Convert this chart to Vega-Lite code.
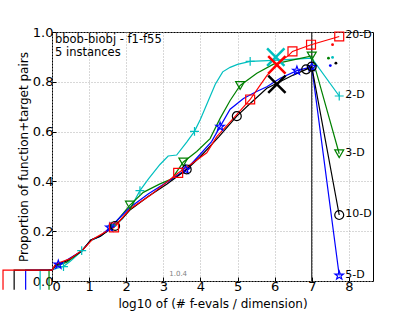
{
  "$schema": "https://vega.github.io/schema/vega-lite/v6.json",
  "width": 321,
  "height": 249,
  "autosize": {"type": "none"},
  "padding": {"left": 52, "top": 32, "right": 42, "bottom": 31},
  "config": {
    "font": "DejaVu Sans",
    "view": {"stroke": "#000000", "strokeWidth": 1},
    "axis": {
      "domain": false,
      "grid": true,
      "gridColor": "#b0b0b0",
      "gridDash": [1, 2],
      "gridWidth": 1,
      "tickColor": "#000000",
      "tickSize": -4,
      "labelFont": "DejaVu Sans",
      "labelFontSize": 13,
      "labelColor": "#000000",
      "titleFont": "DejaVu Sans",
      "titleFontSize": 12,
      "titleFontWeight": "normal",
      "titleColor": "#000000"
    }
  },
  "datasets": {
    "lines": [
      {"d": "2-D", "x": -0.32, "y": -0.035}, {"d": "2-D", "x": -0.32, "y": 0.044}, {"d": "2-D", "x": 0, "y": 0.044},
      {"d": "2-D", "x": 0.1, "y": 0.05}, {"d": "2-D", "x": 0.31, "y": 0.058}, {"d": "2-D", "x": 0.5, "y": 0.08},
      {"d": "2-D", "x": 0.8, "y": 0.12}, {"d": "2-D", "x": 1.02, "y": 0.16}, {"d": "2-D", "x": 1.3, "y": 0.18},
      {"d": "2-D", "x": 1.6, "y": 0.215}, {"d": "2-D", "x": 1.9, "y": 0.25}, {"d": "2-D", "x": 2.1, "y": 0.289},
      {"d": "2-D", "x": 2.37, "y": 0.363}, {"d": "2-D", "x": 2.6, "y": 0.41}, {"d": "2-D", "x": 2.91, "y": 0.468},
      {"d": "2-D", "x": 3.13, "y": 0.502}, {"d": "2-D", "x": 3.36, "y": 0.506}, {"d": "2-D", "x": 3.63, "y": 0.558},
      {"d": "2-D", "x": 3.84, "y": 0.601}, {"d": "2-D", "x": 4.0, "y": 0.65}, {"d": "2-D", "x": 4.2, "y": 0.72},
      {"d": "2-D", "x": 4.4, "y": 0.79}, {"d": "2-D", "x": 4.6, "y": 0.84}, {"d": "2-D", "x": 4.8, "y": 0.858},
      {"d": "2-D", "x": 5.0, "y": 0.87}, {"d": "2-D", "x": 5.34, "y": 0.882}, {"d": "2-D", "x": 5.97, "y": 0.886},
      {"d": "2-D", "x": 7.0, "y": 0.895}, {"d": "2-D", "x": 7.74, "y": 0.743},

      {"d": "3-D", "x": -0.08, "y": -0.035}, {"d": "3-D", "x": -0.08, "y": 0.044}, {"d": "3-D", "x": 0, "y": 0.044},
      {"d": "3-D", "x": 0.1, "y": 0.06}, {"d": "3-D", "x": 0.4, "y": 0.075}, {"d": "3-D", "x": 0.8, "y": 0.12},
      {"d": "3-D", "x": 1.05, "y": 0.165}, {"d": "3-D", "x": 1.3, "y": 0.18}, {"d": "3-D", "x": 1.6, "y": 0.215},
      {"d": "3-D", "x": 1.85, "y": 0.26}, {"d": "3-D", "x": 2.1, "y": 0.305}, {"d": "3-D", "x": 2.46, "y": 0.356},
      {"d": "3-D", "x": 2.91, "y": 0.39}, {"d": "3-D", "x": 3.23, "y": 0.41}, {"d": "3-D", "x": 3.54, "y": 0.478},
      {"d": "3-D", "x": 3.9, "y": 0.52}, {"d": "3-D", "x": 4.26, "y": 0.572}, {"d": "3-D", "x": 4.53, "y": 0.653},
      {"d": "3-D", "x": 4.8, "y": 0.725}, {"d": "3-D", "x": 5.07, "y": 0.785}, {"d": "3-D", "x": 5.52, "y": 0.834},
      {"d": "3-D", "x": 5.97, "y": 0.871}, {"d": "3-D", "x": 6.5, "y": 0.888}, {"d": "3-D", "x": 7.0, "y": 0.904},
      {"d": "3-D", "x": 7.74, "y": 0.511},

      {"d": "5-D", "x": -0.71, "y": -0.035}, {"d": "5-D", "x": -0.71, "y": 0.044}, {"d": "5-D", "x": 0, "y": 0.044},
      {"d": "5-D", "x": 0.1, "y": 0.065}, {"d": "5-D", "x": 0.3, "y": 0.075}, {"d": "5-D", "x": 0.8, "y": 0.12},
      {"d": "5-D", "x": 1.05, "y": 0.165}, {"d": "5-D", "x": 1.3, "y": 0.18}, {"d": "5-D", "x": 1.56, "y": 0.215},
      {"d": "5-D", "x": 2.1, "y": 0.295}, {"d": "5-D", "x": 2.6, "y": 0.35}, {"d": "5-D", "x": 3.18, "y": 0.405},
      {"d": "5-D", "x": 3.63, "y": 0.45}, {"d": "5-D", "x": 4.0, "y": 0.51}, {"d": "5-D", "x": 4.3, "y": 0.56},
      {"d": "5-D", "x": 4.53, "y": 0.62}, {"d": "5-D", "x": 4.8, "y": 0.69}, {"d": "5-D", "x": 5.16, "y": 0.733},
      {"d": "5-D", "x": 5.5, "y": 0.76}, {"d": "5-D", "x": 5.79, "y": 0.78}, {"d": "5-D", "x": 6.15, "y": 0.814},
      {"d": "5-D", "x": 6.6, "y": 0.845}, {"d": "5-D", "x": 7.0, "y": 0.86}, {"d": "5-D", "x": 7.74, "y": 0.022},

      {"d": "10-D", "x": -1.02, "y": -0.035}, {"d": "10-D", "x": -1.02, "y": 0.044}, {"d": "10-D", "x": 0, "y": 0.044},
      {"d": "10-D", "x": 0.1, "y": 0.065}, {"d": "10-D", "x": 0.4, "y": 0.08}, {"d": "10-D", "x": 0.8, "y": 0.12},
      {"d": "10-D", "x": 1.05, "y": 0.165}, {"d": "10-D", "x": 1.3, "y": 0.18}, {"d": "10-D", "x": 1.7, "y": 0.221},
      {"d": "10-D", "x": 2.1, "y": 0.285}, {"d": "10-D", "x": 2.6, "y": 0.34}, {"d": "10-D", "x": 3.1, "y": 0.39},
      {"d": "10-D", "x": 3.63, "y": 0.448}, {"d": "10-D", "x": 4.0, "y": 0.5}, {"d": "10-D", "x": 4.5, "y": 0.58},
      {"d": "10-D", "x": 4.98, "y": 0.662}, {"d": "10-D", "x": 5.34, "y": 0.713}, {"d": "10-D", "x": 5.79, "y": 0.774},
      {"d": "10-D", "x": 6.06, "y": 0.794}, {"d": "10-D", "x": 6.5, "y": 0.827}, {"d": "10-D", "x": 6.85, "y": 0.85},
      {"d": "10-D", "x": 7.0, "y": 0.861}, {"d": "10-D", "x": 7.74, "y": 0.265},

      {"d": "20-D", "x": -1.32, "y": -0.035}, {"d": "20-D", "x": -1.32, "y": 0.044}, {"d": "20-D", "x": 0, "y": 0.044},
      {"d": "20-D", "x": 0.1, "y": 0.068}, {"d": "20-D", "x": 0.5, "y": 0.09}, {"d": "20-D", "x": 0.84, "y": 0.127},
      {"d": "20-D", "x": 1.1, "y": 0.168}, {"d": "20-D", "x": 1.47, "y": 0.2}, {"d": "20-D", "x": 1.67, "y": 0.215},
      {"d": "20-D", "x": 2.1, "y": 0.289}, {"d": "20-D", "x": 2.64, "y": 0.343}, {"d": "20-D", "x": 3.09, "y": 0.397},
      {"d": "20-D", "x": 3.4, "y": 0.434}, {"d": "20-D", "x": 3.8, "y": 0.475}, {"d": "20-D", "x": 4.17, "y": 0.515},
      {"d": "20-D", "x": 4.44, "y": 0.58}, {"d": "20-D", "x": 4.93, "y": 0.66}, {"d": "20-D", "x": 5.34, "y": 0.729},
      {"d": "20-D", "x": 5.61, "y": 0.787}, {"d": "20-D", "x": 5.79, "y": 0.825}, {"d": "20-D", "x": 6.06, "y": 0.872},
      {"d": "20-D", "x": 6.37, "y": 0.905}, {"d": "20-D", "x": 6.48, "y": 0.922}, {"d": "20-D", "x": 6.98, "y": 0.949},
      {"d": "20-D", "x": 7.74, "y": 0.982}
    ],
    "markers": [
      {"d": "2-D", "x": 0.31, "y": 0.058}, {"d": "2-D", "x": 0.8, "y": 0.122}, {"d": "2-D", "x": 1.61, "y": 0.22},
      {"d": "2-D", "x": 2.37, "y": 0.363}, {"d": "2-D", "x": 3.84, "y": 0.601}, {"d": "2-D", "x": 5.34, "y": 0.882},
      {"d": "2-D", "x": 7.74, "y": 0.743},
      {"d": "3-D", "x": 2.1, "y": 0.305}, {"d": "3-D", "x": 3.54, "y": 0.478}, {"d": "3-D", "x": 5.07, "y": 0.785},
      {"d": "3-D", "x": 7.0, "y": 0.904}, {"d": "3-D", "x": 7.74, "y": 0.511},
      {"d": "5-D", "x": 0.17, "y": 0.066}, {"d": "5-D", "x": 1.56, "y": 0.215}, {"d": "5-D", "x": 3.6, "y": 0.447},
      {"d": "5-D", "x": 4.53, "y": 0.62}, {"d": "5-D", "x": 6.6, "y": 0.845}, {"d": "5-D", "x": 7.0, "y": 0.86},
      {"d": "5-D", "x": 7.74, "y": 0.022},
      {"d": "10-D", "x": 1.7, "y": 0.221}, {"d": "10-D", "x": 3.63, "y": 0.448}, {"d": "10-D", "x": 4.98, "y": 0.662},
      {"d": "10-D", "x": 6.85, "y": 0.85}, {"d": "10-D", "x": 7.0, "y": 0.861}, {"d": "10-D", "x": 7.74, "y": 0.265},
      {"d": "20-D", "x": 1.67, "y": 0.215}, {"d": "20-D", "x": 3.4, "y": 0.434}, {"d": "20-D", "x": 5.34, "y": 0.729},
      {"d": "20-D", "x": 6.48, "y": 0.922}, {"d": "20-D", "x": 6.98, "y": 0.949}, {"d": "20-D", "x": 7.74, "y": 0.982}
    ],
    "bigx": [
      {"d": "2-D", "x": 6.03, "y": 0.899},
      {"d": "20-D", "x": 6.06, "y": 0.868},
      {"d": "10-D", "x": 6.06, "y": 0.79}
    ],
    "dots": [
      {"d": "20-D", "x": 7.56, "y": 0.949},
      {"d": "2-D", "x": 7.56, "y": 0.898},
      {"d": "3-D", "x": 7.45, "y": 0.895},
      {"d": "5-D", "x": 7.5, "y": 0.865},
      {"d": "10-D", "x": 7.65, "y": 0.875}
    ],
    "ends": [
      {"d": "2-D", "x": 7.74, "y": 0.743},
      {"d": "3-D", "x": 7.74, "y": 0.511},
      {"d": "5-D", "x": 7.74, "y": 0.022},
      {"d": "10-D", "x": 7.74, "y": 0.265},
      {"d": "20-D", "x": 7.74, "y": 0.982}
    ],
    "notes": [
      {"x": 0.08, "y": 0.969, "label": "bbob-biobj - f1-f55"},
      {"x": 0.08, "y": 0.915, "label": "5 instances"}
    ],
    "version": [
      {"x": 3.4, "y": 0.027, "label": "1.0.4"}
    ],
    "vline": [{"x": 7}]
  },
  "encoding": {
    "x": {
      "field": "x", "type": "quantitative",
      "scale": {"domain": [0, 8.65], "nice": false, "zero": false},
      "axis": {"values": [0, 1, 2, 3, 4, 5, 6, 7, 8], "format": "d", "title": "log10 of (# f-evals / dimension)", "labelPadding": 3, "titlePadding": 5}
    },
    "y": {
      "field": "y", "type": "quantitative",
      "scale": {"domain": [0, 1], "nice": false, "zero": false},
      "axis": {"values": [0, 0.2, 0.4, 0.6, 0.8, 1.0], "format": ".1f", "title": "Proportion of function+target pairs", "labelPadding": 3, "titlePadding": 2}
    }
  },
  "layer": [
    {
      "data": {"name": "vline"},
      "mark": {"type": "rule", "color": "#000000", "strokeWidth": 1},
      "encoding": {"x": {"field": "x", "type": "quantitative"}, "y": null}
    },
    {
      "data": {"name": "lines"},
      "mark": {"type": "line", "strokeWidth": 1.2, "clip": false},
      "encoding": {
        "color": {"field": "d", "type": "nominal", "scale": {"domain": ["2-D", "3-D", "5-D", "10-D", "20-D"], "range": ["#00bfbf", "#008000", "#0000ff", "#000000", "#ff0000"]}, "legend": null},
        "order": {"value": null}
      }
    },
    {
      "data": {"name": "markers"},
      "mark": {"type": "point", "filled": false, "strokeWidth": 1.2, "size": 80, "opacity": 1},
      "encoding": {
        "color": {"field": "d", "type": "nominal", "legend": null},
        "shape": {"field": "d", "type": "nominal", "legend": null, "scale": {"domain": ["2-D", "3-D", "5-D", "10-D", "20-D"], "range": ["M-1,0L1,0M0,-1L0,1", "triangle-down", "M0,-1L0.235,-0.324L0.951,-0.309L0.380,0.124L0.588,0.809L0,0.4L-0.588,0.809L-0.380,0.124L-0.951,-0.309L-0.235,-0.324Z", "circle", "square"]}}
      }
    },
    {
      "data": {"name": "bigx"},
      "mark": {"type": "point", "filled": false, "shape": "M-1,-1L1,1M-1,1L1,-1", "size": 300, "opacity": 1},
      "encoding": {
        "color": {"field": "d", "type": "nominal", "legend": null},
        "strokeWidth": {"field": "d", "type": "nominal", "legend": null, "scale": {"domain": ["2-D", "20-D", "10-D"], "range": [2.5, 2.5, 3.5]}}
      }
    },
    {
      "data": {"name": "dots"},
      "mark": {"type": "circle", "size": 8, "opacity": 1},
      "encoding": {"color": {"field": "d", "type": "nominal", "legend": null}}
    },
    {
      "data": {"name": "ends"},
      "mark": {"type": "text", "align": "left", "baseline": "middle", "dx": 6, "dy": -1, "fontSize": 11, "color": "#000000"},
      "encoding": {"text": {"field": "d", "type": "nominal"}}
    },
    {
      "data": {"name": "notes"},
      "mark": {"type": "text", "align": "left", "baseline": "middle", "fontSize": 11.5, "color": "#000000"},
      "encoding": {"text": {"field": "label", "type": "nominal"}}
    },
    {
      "data": {"name": "version"},
      "mark": {"type": "text", "align": "center", "baseline": "middle", "fontSize": 7, "color": "#808080"},
      "encoding": {"text": {"field": "label", "type": "nominal"}}
    }
  ]
}
